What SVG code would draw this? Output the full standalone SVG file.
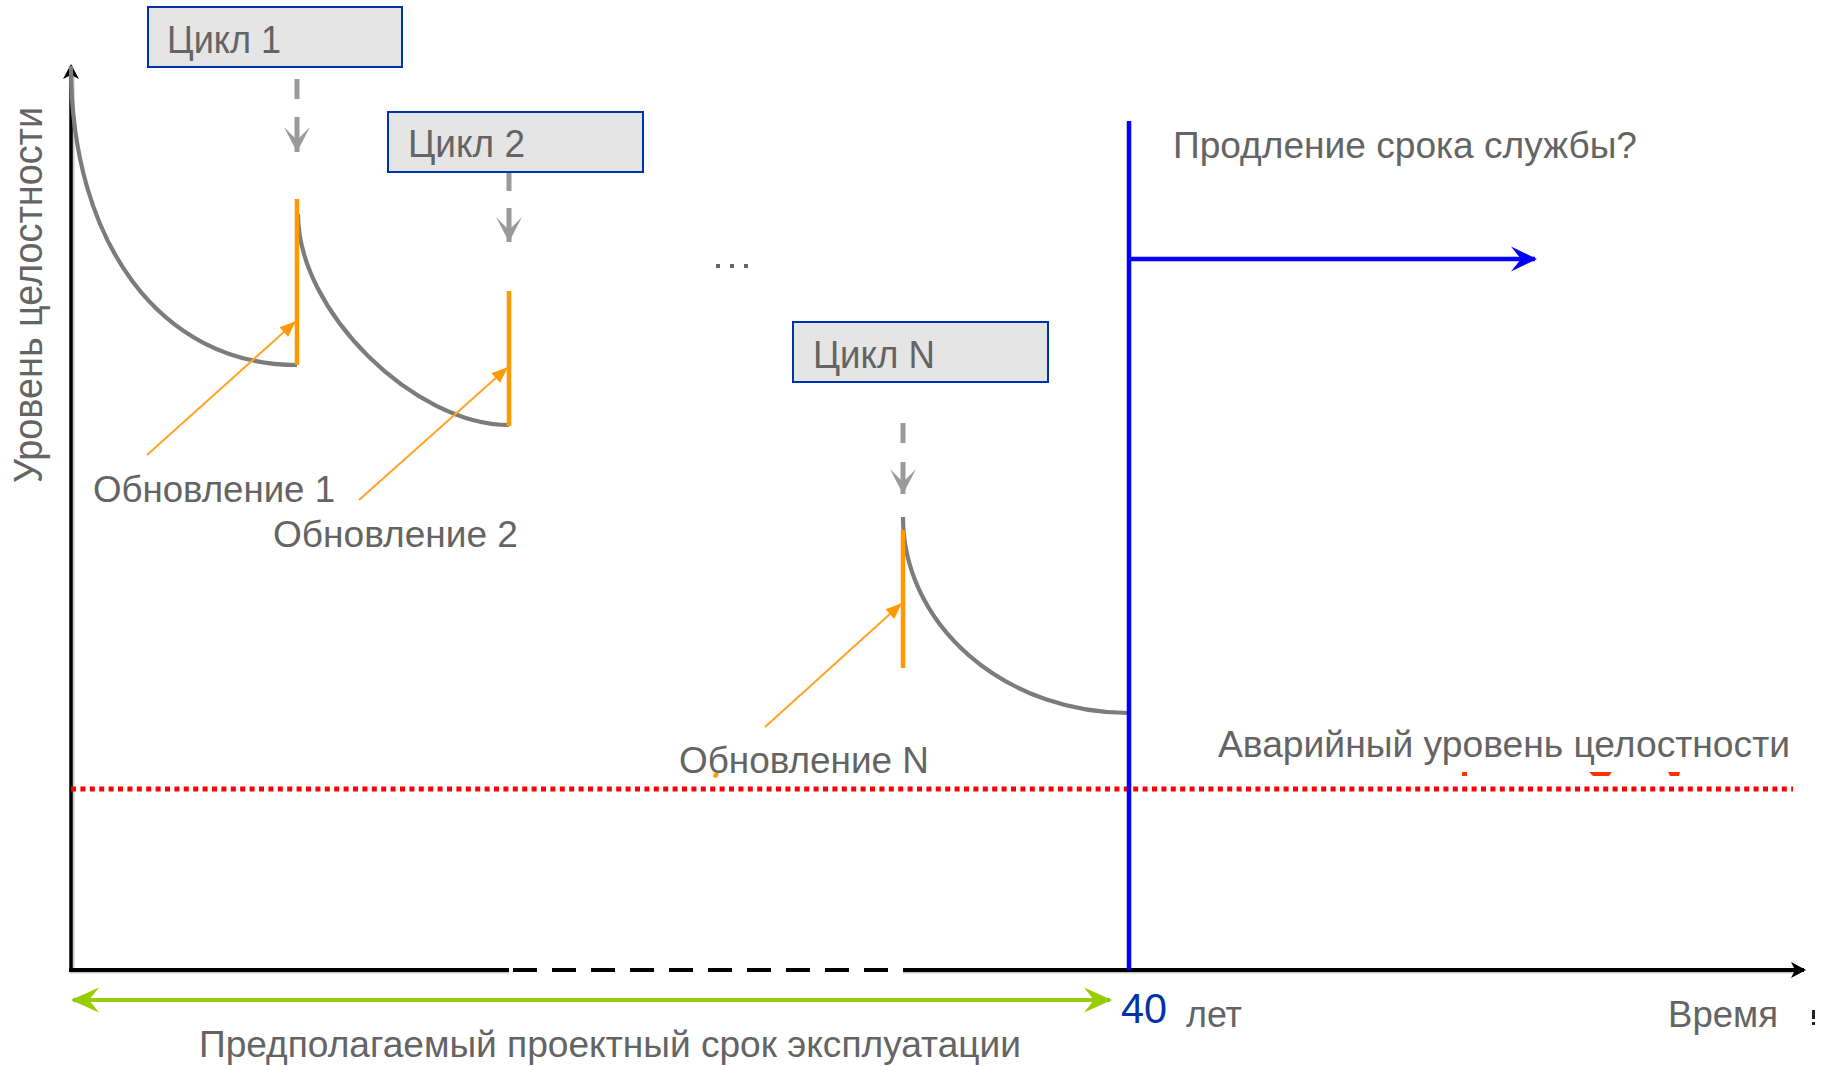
<svg xmlns="http://www.w3.org/2000/svg" width="1829" height="1066" viewBox="0 0 1829 1066">
<style>
.t{font-family:"Liberation Sans",Arial,sans-serif;fill:#646464}
.box{fill:#e5e5e5;stroke:#0033aa;stroke-width:2}
.curve{fill:none;stroke:#7c7c7c;stroke-width:4.2}
.upd{stroke:#ff9900;stroke-width:4.5}
.ann{stroke:#ffa424;stroke-width:2;fill:none}
.garr{stroke:#9a9a9a;stroke-width:5;fill:none}
</style>
<defs>
<marker id="mBlack" markerUnits="userSpaceOnUse" orient="auto" overflow="visible" markerWidth="1" markerHeight="1"><path d="M2,0 L-13,-8 L-9,0 L-13,8 Z" fill="#000"/></marker>
<marker id="mGrey" markerUnits="userSpaceOnUse" orient="auto" overflow="visible" markerWidth="1" markerHeight="1"><path d="M0,0 L-25,-13 L-12,0 L-25,13 Z" fill="#9a9a9a"/></marker>
<marker id="mBlue" markerUnits="userSpaceOnUse" orient="auto" overflow="visible" markerWidth="1" markerHeight="1"><path d="M2,0 L-24,-12.5 L-14,0 L-24,12.5 Z" fill="#0000ff"/></marker>
<marker id="mGreen" markerUnits="userSpaceOnUse" orient="auto-start-reverse" overflow="visible" markerWidth="1" markerHeight="1"><path d="M2,0 L-26,-12.5 L-16,0 L-26,12.5 Z" fill="#99cc00"/></marker>
<marker id="mOrange" markerUnits="userSpaceOnUse" orient="auto" overflow="visible" markerWidth="1" markerHeight="1"><path d="M1,0 L-15,-6.5 L-15,6.5 Z" fill="#ff9900"/></marker>
</defs>
<rect width="1829" height="1066" fill="#ffffff"/>

<g id="axes">
<line x1="73" y1="969" x2="73" y2="72" stroke="#c8c8c8" stroke-width="3"/>
<line x1="70" y1="972" x2="509" y2="972" stroke="#c8c8c8" stroke-width="3"/>
<line x1="903" y1="972" x2="1800" y2="972" stroke="#c8c8c8" stroke-width="3"/>
<line x1="71" y1="970" x2="71" y2="66" stroke="#000" stroke-width="3.5" marker-end="url(#mBlack)"/>
<line x1="69" y1="970" x2="509" y2="970" stroke="#000" stroke-width="4"/>
<line x1="513" y1="970" x2="888" y2="970" stroke="#000" stroke-width="4" stroke-dasharray="24 15"/>
<line x1="903" y1="970" x2="1804" y2="970" stroke="#000" stroke-width="4" marker-end="url(#mBlack)"/>
</g>

<g id="critical-level">
<line x1="71" y1="789" x2="1793" y2="789" stroke="#ff0000" stroke-width="5" stroke-dasharray="5 4.4"/>
<rect x="1462" y="772" width="5" height="4" fill="#ff3300"/>
<path d="M1589,772 L1612,772 L1609,776 L1593,776 Z" fill="#ff3300"/>
<path d="M1668,772 L1680,772 L1679,776 L1670,776 Z" fill="#ff3300"/>
</g>

<g id="connectors">
<path class="curve" d="M71,66 C71,242 160,365 297,365"/>
<path class="curve" d="M298,214 C298,312 415,425 509,425"/>
<path class="curve" d="M903,517 A226,196 0 0 0 1129,713"/>
<line class="upd" x1="297" y1="199" x2="297" y2="365"/>
<line class="upd" x1="509" y1="291" x2="509" y2="426"/>
<line class="upd" x1="903" y1="530" x2="903" y2="668"/>
<line class="garr" x1="297" y1="79" x2="297" y2="152" stroke-dasharray="20 18 200" marker-end="url(#mGrey)"/>
<line class="garr" x1="509" y1="173" x2="509" y2="242" stroke-dasharray="18 17 200" marker-end="url(#mGrey)"/>
<line class="garr" x1="903" y1="423" x2="903" y2="494" stroke-dasharray="20 19 200" marker-end="url(#mGrey)"/>
<line class="ann" x1="147" y1="455" x2="295" y2="322" marker-end="url(#mOrange)"/>
<line class="ann" x1="359" y1="500" x2="507" y2="368" marker-end="url(#mOrange)"/>
<line class="ann" x1="765" y1="727" x2="901" y2="604" marker-end="url(#mOrange)"/>
<path d="M714,773 L719,773 L717,778 L713,777 Z" fill="#ff9900"/>
<line x1="1129" y1="121" x2="1129" y2="970" stroke="#0000ff" stroke-width="4.5"/>
<line x1="1129" y1="259" x2="1535" y2="259" stroke="#0000ff" stroke-width="4.5" marker-end="url(#mBlue)"/>
<line x1="73" y1="1000" x2="1110" y2="1000" stroke="#99cc00" stroke-width="4" marker-start="url(#mGreen)" marker-end="url(#mGreen)"/>
</g>

<g id="cycle1">
<rect class="box" x="148" y="7" width="254" height="60"/>
<text class="t" x="167" y="53" font-size="38" textLength="114" lengthAdjust="spacingAndGlyphs">Цикл 1</text>
</g>
<g id="cycle2">
<rect class="box" x="388" y="112" width="255" height="60"/>
<text class="t" x="408" y="157" font-size="38" textLength="117" lengthAdjust="spacingAndGlyphs">Цикл 2</text>
</g>
<g id="cycleN">
<rect class="box" x="793" y="322" width="255" height="60"/>
<text class="t" x="813" y="368" font-size="38" textLength="122" lengthAdjust="spacingAndGlyphs">Цикл N</text>
</g>

<g id="update1"><text class="t" x="93" y="502" font-size="37" textLength="242" lengthAdjust="spacingAndGlyphs">Обновление 1</text></g>
<g id="update2"><text class="t" x="273" y="547" font-size="37" textLength="245" lengthAdjust="spacingAndGlyphs">Обновление 2</text></g>
<g id="updateN"><text class="t" x="679" y="773" font-size="37" textLength="250" lengthAdjust="spacingAndGlyphs">Обновление N</text></g>

<g id="ellipsis">
<rect x="716" y="264" width="4" height="4" fill="#666"/>
<rect x="730" y="264" width="4" height="4" fill="#666"/>
<rect x="744" y="264" width="4" height="4" fill="#666"/>
</g>

<g id="y-label"><text class="t" transform="translate(42,483) rotate(-90)" font-size="40" textLength="376" lengthAdjust="spacingAndGlyphs">Уровень целостности</text></g>
<g id="extension-label"><text class="t" x="1173" y="158" font-size="37" textLength="464" lengthAdjust="spacingAndGlyphs">Продление срока службы?</text></g>
<g id="critical-label"><text class="t" x="1218" y="757" font-size="37" textLength="572" lengthAdjust="spacingAndGlyphs">Аварийный уровень целостности</text></g>
<g id="design-life-label"><text class="t" x="199" y="1057" font-size="37" textLength="822" lengthAdjust="spacingAndGlyphs">Предполагаемый проектный срок эксплуатации</text></g>
<g id="years-label">
<text x="1121" y="1023" font-family="Liberation Sans,Arial,sans-serif" font-size="43" fill="#0033aa" textLength="46" lengthAdjust="spacingAndGlyphs">40</text>
<text class="t" x="1186" y="1027" font-size="37" textLength="56" lengthAdjust="spacingAndGlyphs">лет</text>
</g>
<g id="time-label"><text class="t" x="1668" y="1027" font-size="37" textLength="110" lengthAdjust="spacingAndGlyphs">Время</text></g>
<g id="edge-mark">
<rect x="1812" y="1010" width="3" height="9" fill="#222"/>
<rect x="1812" y="1022" width="3" height="3" fill="#222"/>
</g>
</svg>
